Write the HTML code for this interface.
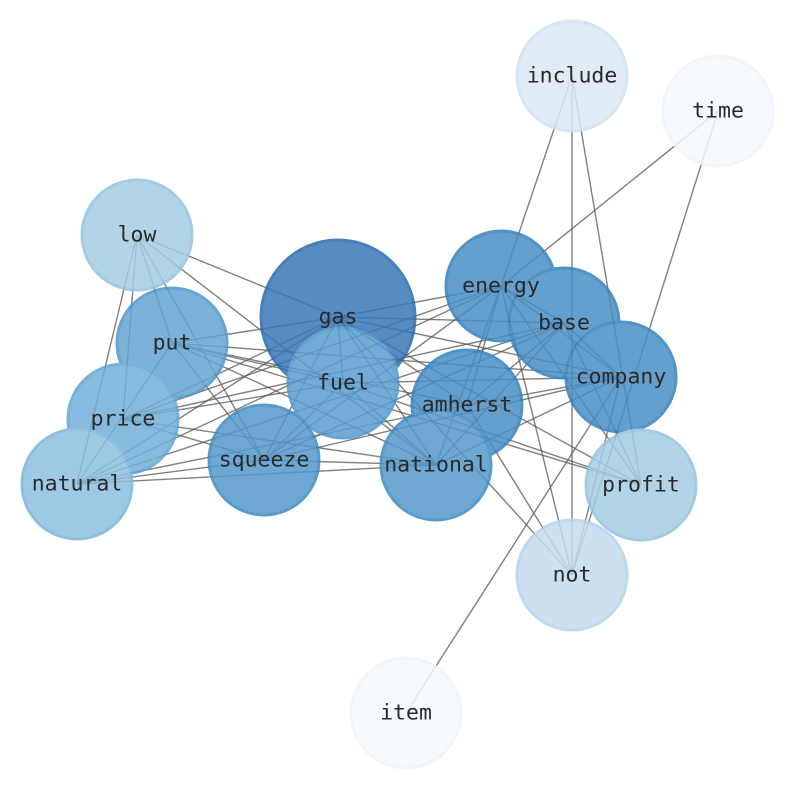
<!DOCTYPE html>
<html><head><meta charset="utf-8"><style>html,body{margin:0;padding:0;background:#fff}svg{display:block}text{font-family:"DejaVu Sans Mono","Liberation Mono",monospace;font-size:21.5px;fill:#2a2a2a;text-anchor:middle;dominant-baseline:central}</style></head><body>
<svg width="794" height="790" viewBox="0 0 794 790">
<g stroke="#555" stroke-width="1.4" stroke-opacity="0.75">
<line x1="137" y1="235" x2="338" y2="317"/><line x1="137" y1="235" x2="172" y2="343"/><line x1="137" y1="235" x2="123" y2="419"/><line x1="137" y1="235" x2="77" y2="484"/><line x1="137" y1="235" x2="264" y2="460"/><line x1="137" y1="235" x2="436" y2="465"/>
<line x1="338" y1="317" x2="172" y2="343"/><line x1="338" y1="317" x2="123" y2="419"/><line x1="338" y1="317" x2="77" y2="484"/><line x1="338" y1="317" x2="264" y2="460"/><line x1="338" y1="317" x2="343" y2="383"/><line x1="338" y1="317" x2="436" y2="465"/><line x1="338" y1="317" x2="501" y2="286"/><line x1="338" y1="317" x2="564" y2="323"/><line x1="338" y1="317" x2="621" y2="377"/><line x1="338" y1="317" x2="467" y2="405"/><line x1="338" y1="317" x2="641" y2="485"/><line x1="338" y1="317" x2="572" y2="575"/>
<line x1="172" y1="343" x2="77" y2="484"/><line x1="172" y1="343" x2="264" y2="460"/><line x1="172" y1="343" x2="343" y2="383"/><line x1="172" y1="343" x2="467" y2="405"/><line x1="172" y1="343" x2="436" y2="465"/><line x1="172" y1="343" x2="621" y2="377"/><line x1="172" y1="343" x2="641" y2="485"/>
<line x1="123" y1="419" x2="343" y2="383"/><line x1="123" y1="419" x2="264" y2="460"/><line x1="123" y1="419" x2="436" y2="465"/><line x1="123" y1="419" x2="564" y2="323"/><line x1="123" y1="419" x2="501" y2="286"/>
<line x1="77" y1="484" x2="264" y2="460"/><line x1="77" y1="484" x2="436" y2="465"/><line x1="77" y1="484" x2="501" y2="286"/><line x1="77" y1="484" x2="564" y2="323"/><line x1="77" y1="484" x2="467" y2="405"/>
<line x1="264" y1="460" x2="436" y2="465"/><line x1="264" y1="460" x2="343" y2="383"/><line x1="264" y1="460" x2="501" y2="286"/><line x1="264" y1="460" x2="564" y2="323"/><line x1="264" y1="460" x2="621" y2="377"/>
<line x1="343" y1="383" x2="621" y2="377"/><line x1="343" y1="383" x2="436" y2="465"/><line x1="343" y1="383" x2="641" y2="485"/>
<line x1="501" y1="286" x2="572" y2="76"/><line x1="501" y1="286" x2="718" y2="111"/><line x1="501" y1="286" x2="467" y2="405"/><line x1="501" y1="286" x2="436" y2="465"/><line x1="501" y1="286" x2="564" y2="323"/><line x1="501" y1="286" x2="621" y2="377"/><line x1="501" y1="286" x2="641" y2="485"/><line x1="501" y1="286" x2="572" y2="575"/>
<line x1="564" y1="323" x2="436" y2="465"/><line x1="564" y1="323" x2="467" y2="405"/><line x1="564" y1="323" x2="641" y2="485"/><line x1="564" y1="323" x2="621" y2="377"/>
<line x1="621" y1="377" x2="406" y2="713"/><line x1="621" y1="377" x2="436" y2="465"/><line x1="621" y1="377" x2="467" y2="405"/><line x1="621" y1="377" x2="572" y2="575"/>
<line x1="572" y1="76" x2="572" y2="575"/><line x1="572" y1="76" x2="641" y2="485"/><line x1="718" y1="111" x2="572" y2="575"/><line x1="467" y1="405" x2="572" y2="575"/>
</g>
<g stroke-width="3" opacity="0.85">
<circle cx="572" cy="76" r="55" fill="#dbe8f5" stroke="#d0e1f2"/>
<circle cx="718" cy="111" r="55" fill="#f5f9fe" stroke="#eef5fc"/>
<circle cx="137" cy="235" r="55" fill="#a5cde3" stroke="#94c4df"/>
<circle cx="338" cy="317" r="77" fill="#3a78b8" stroke="#2a6aaf"/>
<circle cx="172" cy="343" r="55" fill="#64a5d3" stroke="#4d96cc"/>
<circle cx="343" cy="383" r="55" fill="#5a9ed0" stroke="#4d96cc"/>
<circle cx="501" cy="286" r="55" fill="#4b8fc6" stroke="#3282be"/>
<circle cx="564" cy="323" r="55" fill="#4b8fc6" stroke="#3282be"/>
<circle cx="621" cy="377" r="55" fill="#4b8fc6" stroke="#3282be"/>
<circle cx="123" cy="419" r="55" fill="#72b0d8" stroke="#5fa6d1"/>
<circle cx="467" cy="405" r="55" fill="#4b8fc6" stroke="#3282be"/>
<circle cx="264" cy="460" r="55" fill="#5598ca" stroke="#3d8bc4"/>
<circle cx="436" cy="465" r="55" fill="#5598ca" stroke="#3d8bc4"/>
<circle cx="77" cy="484" r="55" fill="#8cc0e0" stroke="#7ab6da"/>
<circle cx="641" cy="485" r="55" fill="#a5cde3" stroke="#94c4df"/>
<circle cx="572" cy="575" r="55" fill="#c2dbee" stroke="#b3d2ea"/>
<circle cx="406" cy="713" r="55" fill="#f5f9fe" stroke="#eef5fc"/>
</g>
<g>
<text x="572" y="76">include</text><text x="718" y="111">time</text><text x="137" y="235">low</text><text x="338" y="317">gas</text><text x="172" y="343">put</text><text x="343" y="383">fuel</text><text x="501" y="286">energy</text><text x="564" y="323">base</text><text x="621" y="377">company</text><text x="123" y="419">price</text><text x="467" y="405">amherst</text><text x="264" y="460">squeeze</text><text x="436" y="465">national</text><text x="77" y="484">natural</text><text x="641" y="485">profit</text><text x="572" y="575">not</text><text x="406" y="713">item</text>
</g>
</svg>
</body></html>
